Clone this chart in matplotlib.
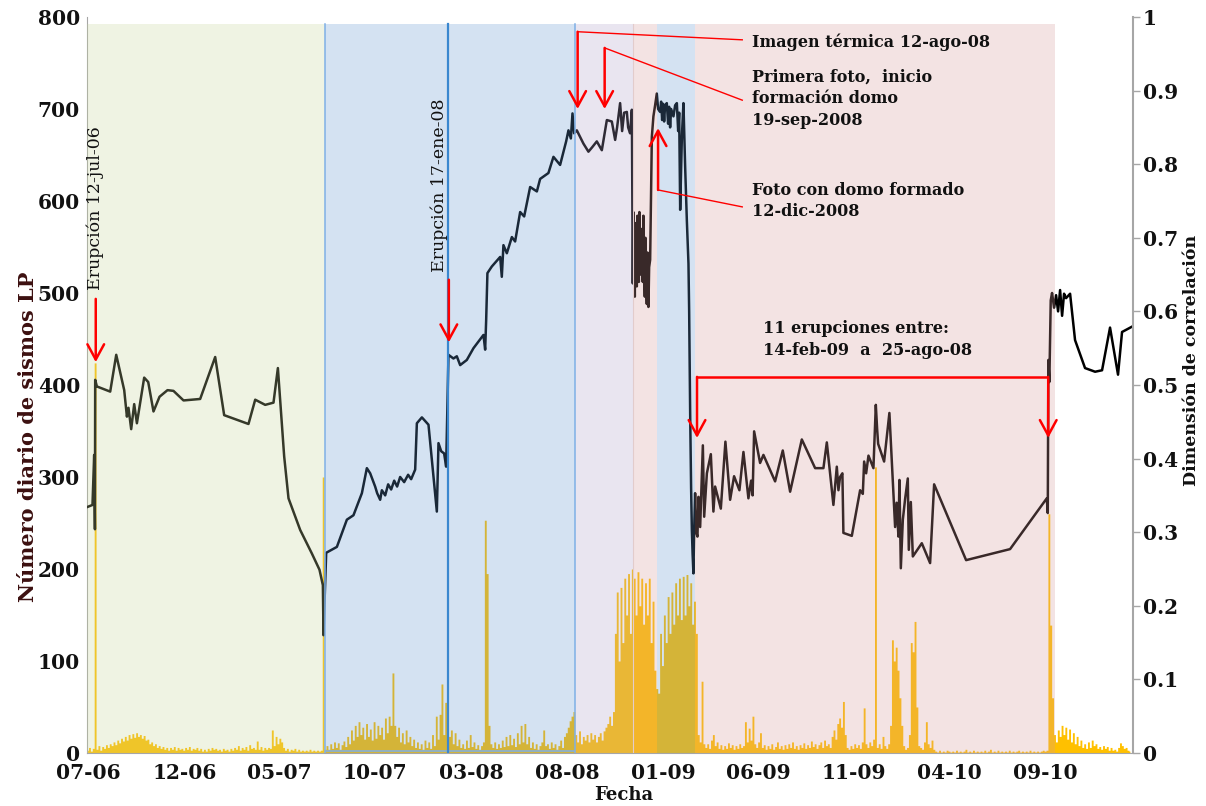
import numpy as np
import matplotlib
matplotlib.use("Agg")
import matplotlib.pyplot as plt
import matplotlib.dates as mdates

plt.rcParams['font.family'] = ['DejaVu Serif']

# numero diario de sismos LP, one value every 3 days from 2006-06-30
lp_start = '2006-06-30'
lp_step_days = 3
lp_count = [
    3, 6, 2, 5, 424, 4, 8, 3, 7, 5,
    9, 6, 10, 8, 12, 9, 14, 11, 16, 13,
    18, 14, 20, 16, 21, 17, 22, 18, 20, 16,
    19, 14, 15, 10, 12, 8, 10, 6, 8, 5,
    7, 4, 6, 3, 6, 4, 7, 3, 6, 4,
    5, 3, 6, 4, 7, 3, 5, 4, 6, 3,
    5, 2, 4, 2, 5, 3, 6, 4, 5, 3,
    4, 2, 5, 3, 4, 2, 5, 3, 6, 4,
    8, 3, 6, 4, 7, 3, 9, 5, 6, 4,
    13, 4, 7, 3, 6, 4, 6, 5, 25, 8,
    18, 10, 16, 12, 6, 3, 5, 2, 4, 3,
    5, 2, 4, 2, 3, 2, 3, 2, 4, 2,
    3, 2, 3, 2, 3, 300, 4,
    # jul-2007 .. jan-2008
    8, 4, 10, 5, 12, 6, 11, 4, 9, 13,
    7, 18, 10, 25, 14, 30, 18, 34, 20, 28,
    15, 32, 18, 26, 14, 34, 16, 30, 20, 28,
    15, 38, 22, 40, 30, 87,
    30, 18, 28, 12, 22, 10, 25, 12, 18, 8,
    15, 6, 12, 5, 10, 4, 14, 6, 12, 5, 20, 8,
    40, 15, 42, 75, 20, 55, 12,
    # jan-2008 .. aug-2008
    18, 25, 10, 22, 8, 15, 6, 10, 5, 14,
    6, 20, 7, 12, 5, 9, 4, 8, 12,
    253, 195, 30,
    10, 6, 12, 5, 10, 6, 14, 7, 18, 8,
    20, 9, 16, 7, 22, 10, 30, 12, 32, 10,
    18, 6, 12, 5, 10, 4, 8, 12, 25, 8,
    10, 5, 12, 6, 10, 4, 8, 14, 6, 18,
    22, 28, 35, 40, 45,
    # aug-2008 .. feb-2009
    20, 12, 24, 10, 18, 14, 20, 12, 22, 15,
    20, 12, 18, 22, 14, 24, 28, 32,
    40, 30, 45, 130, 175, 100, 180, 120, 190, 150, 195, 130, 200,
    190, 150, 197, 160, 190, 140, 185, 150, 190, 120, 165, 90, 70,
    65, 130, 95, 150, 120, 170, 130, 175, 140, 185,
    150, 190, 145, 192, 150, 194, 160, 185, 140, 165,
    # feb-2009 .. sep-2010
    130, 20, 12, 78, 10,
    6, 10, 5, 14, 20, 8, 12, 5, 9, 4,
    8, 5, 11, 6, 9, 4, 8, 5, 10, 6, 8,
    34, 12, 27, 14, 40, 10,
    6, 12, 22, 6, 9, 4, 8, 5, 10, 4,
    7, 12, 5, 8, 4, 9, 5, 10, 6, 12,
    5, 8, 4, 9, 6, 11, 5, 9, 6, 13,
    7, 10, 5, 9, 12, 6, 14, 8, 10, 6,
    18, 25, 15, 32, 38, 28, 56, 20, 6,
    4, 8, 5, 10, 6, 9, 5, 12,
    49, 10, 6, 12, 8, 15, 311, 6,
    10, 5, 18, 8, 5, 10, 30,
    123, 100, 115, 90, 60, 30, 8, 4,
    6, 20, 120, 110, 143, 50, 8,
    6, 4, 12, 34, 10, 6, 14, 4,
    2, 1, 3, 1, 2, 1, 3, 2, 1, 2,
    1, 3, 1, 2, 1, 2, 4, 1, 2, 1,
    3, 1, 2, 1, 2, 1, 3, 1, 2, 4,
    1, 2, 1, 3, 1, 2, 1, 2, 1, 3,
    1, 2, 1, 2, 3, 1, 2, 1, 2, 1,
    3, 1, 2, 1, 2, 1, 2, 3, 2, 3,
    260, 139, 60, 20,
    # sep-2010 .. jan-2011
    12, 25, 18, 30, 20, 28, 15, 26, 12, 22,
    10, 18, 8, 14, 6, 10, 5, 12, 6, 14,
    8, 10, 5, 7, 4, 8, 5, 7, 3, 6,
    3, 4, 2, 6, 11, 8, 5, 6, 3, 2,
]

# dimension de correlacion, days after 2006-07-01
cd_origin = '2006-07-01'
cd_day = [
    -2, 6.8, 9.5, 10.7, 11.1, 13.8, 35, 44.6, 57.3, 61.6,
    64.1, 68.4, 73.2, 77.5, 89.1, 95.5, 103.9, 113.5, 126.2, 135.7,
    151.7, 178.2, 202.1, 216.4, 255.1, 265.8, 281.7, 294.9, 301.9, 311.9,
    318.8, 337.4, 356.0, 368.1, 373.5, 374.5, 376.1,
    378.8, 395.8, 411.7, 422.2, 435.6, 443.5, 448.8, 456.7, 459.9, 464.7,
    467.4, 472.7, 477.4, 482.2, 487.0, 491.7, 496.5, 502.9, 509.2, 514.0,
    520.4, 523.1, 531.1, 541.6, 554.9, 557.5, 561.8, 566.5, 569.7,
    573.4, 581.3, 586.7, 592.0, 602.6, 613.2, 629.1, 631.8, 633.4, 635.4,
    642.4, 655.7, 658.3, 660.9, 666.3, 674.3, 679.5, 687.5, 693.9, 703.4,
    714.1, 719.3, 732.5, 740.5, 751.1, 760.7, 764.4, 768.2, 770.8, 773.4,
    777.7, 788.2, 796.2, 802.1, 809.5, 817.5, 825.5, 833.4, 838.7, 841.8,
    846.6, 849.8, 853.0, 857.3, 859.4, 862.5, 865.3,
    866.8, 867.7, 868.9, 870.0, 870.9, 872.1, 873.2, 874.2, 875.3, 876.4,
    877.3, 878.5, 879.6, 880.5, 881.6, 882.7, 883.7, 884.8, 885.9, 886.9,
    888.0, 889.1, 890.1, 891.7, 892.8, 894.4,
    897.1, 899.6, 902.3, 905.0, 907.1, 910.3, 911.9, 913.5, 915.1, 916.7,
    918.2, 920.9, 923.0, 924.6, 926.2, 927.8, 931.5, 934.2, 936.9, 939.0,
    940.6, 942.2, 943.8, 944.9, 947.4, 950.1, 952.8, 955.4, 956.5, 958.1,
    959.6, 960.8, 962.0, 963.3, 964.4, 966.0, 967.6, 969.7, 971.3, 974.0,
    978.3, 980.4, 984.7, 991.0, 995.1, 997.8, 1006.9, 1014.2, 1021.7, 1028.0,
    1036.5, 1042.9, 1050.8, 1055.1, 1057.5, 1059.9, 1069.4, 1074.7, 1093.3, 1105.5,
    1117.2, 1135.8, 1157.0, 1170.2, 1175.6, 1186.1, 1191.5, 1194.1, 1196.7, 1200.4,
    1202.0, 1215.4, 1228.6, 1232.9, 1235.0, 1238.2, 1241.9, 1249.8, 1253.6, 1255.7,
    1257.3, 1266.8, 1275.2, 1281.6, 1284.3, 1286.7, 1289.6, 1291.2, 1293.4, 1296.6,
    1300.2, 1304.5, 1306.1, 1309.3, 1312.5, 1326.8, 1340.0, 1346.4, 1397.3, 1467.3,
    1525.7, 1527.3, 1527.7, 1528.2, 1529.8, 1532.0, 1534.1, 1537.3, 1540.5, 1543.7,
    1546.9, 1550.1, 1553.2, 1556.4, 1562.8, 1570.7, 1586.6, 1602.6, 1613.7, 1626.4,
    1639.1, 1645.5, 1663.0,
]
cd_val = [
    0.334, 0.337, 0.405, 0.304, 0.507, 0.498, 0.491, 0.541, 0.493, 0.457,
    0.469, 0.440, 0.474, 0.448, 0.510, 0.504, 0.464, 0.484, 0.493, 0.492,
    0.479, 0.481, 0.538, 0.459, 0.447, 0.480, 0.473, 0.476, 0.523, 0.403,
    0.346, 0.303, 0.271, 0.249, 0.228, 0.160, 0.204,
    0.272, 0.280, 0.317, 0.323, 0.353, 0.387, 0.380, 0.362, 0.353, 0.344,
    0.357, 0.350, 0.365, 0.358, 0.370, 0.362, 0.375, 0.368, 0.378, 0.372,
    0.385, 0.448, 0.456, 0.446, 0.328, 0.421, 0.410, 0.407, 0.389,
    0.541, 0.536, 0.539, 0.527, 0.534, 0.550, 0.568, 0.548, 0.588, 0.652,
    0.661, 0.674, 0.647, 0.690, 0.679, 0.701, 0.695, 0.735, 0.729, 0.769,
    0.763, 0.780, 0.788, 0.810, 0.799, 0.831, 0.846, 0.835, 0.869, 0.842,
    0.846, 0.828, 0.817, 0.823, 0.831, 0.819, 0.860, 0.858, 0.833, 0.850,
    0.883, 0.845, 0.870, 0.871, 0.850, 0.842, 0.874,
    0.638, 0.735, 0.700, 0.620, 0.720, 0.660, 0.634, 0.730, 0.680, 0.640,
    0.735, 0.690, 0.650, 0.712, 0.660, 0.640, 0.730, 0.660, 0.620, 0.700,
    0.640, 0.610, 0.680, 0.606, 0.660, 0.670,
    0.837, 0.865, 0.880, 0.896, 0.875, 0.871, 0.885, 0.860, 0.882, 0.858,
    0.880, 0.883, 0.855, 0.878, 0.850, 0.875, 0.865, 0.880, 0.883, 0.845,
    0.870, 0.738, 0.800, 0.837, 0.883, 0.797, 0.724, 0.665, 0.600, 0.461,
    0.360, 0.303, 0.270, 0.244, 0.300, 0.353, 0.300, 0.294, 0.348, 0.307,
    0.418, 0.321, 0.380, 0.406, 0.328, 0.362, 0.332, 0.423, 0.344, 0.376,
    0.357, 0.409, 0.346, 0.370, 0.350, 0.437, 0.394, 0.405, 0.369, 0.411,
    0.355, 0.426, 0.387, 0.387, 0.422, 0.337, 0.389, 0.357, 0.375, 0.380,
    0.299, 0.295, 0.357, 0.352, 0.396, 0.380, 0.404, 0.387, 0.473, 0.440,
    0.420, 0.396, 0.462, 0.353, 0.307, 0.340, 0.294, 0.371, 0.251, 0.317,
    0.345, 0.373, 0.276, 0.341, 0.267, 0.285, 0.258, 0.365, 0.262, 0.277,
    0.346, 0.326, 0.425, 0.534, 0.504, 0.615, 0.625, 0.605, 0.622, 0.600,
    0.629, 0.594, 0.624, 0.618, 0.624, 0.561, 0.523, 0.518, 0.520, 0.578,
    0.514, 0.572, 0.580,
]

# background periods
span_edges = ['2006-06-29', '2007-07-13', '2008-08-14', '2008-11-14',
              '2008-12-22', '2009-02-21', '2010-09-17']
span_colors = ['#c7d39b', '#6297d1', '#b1a2cb', '#d69b9b', '#6297d1', '#d69b9b']

tick_dates = ['2006-07-01', '2006-12-01', '2007-05-01', '2007-10-01',
              '2008-03-01', '2008-08-01', '2009-01-01', '2009-06-01',
              '2009-11-01', '2010-04-01', '2010-09-01']
x_range = ['2006-06-29', '2011-01-19']

# events marked on the chart
erup_line_date = '2008-01-25'
erup1_date, erup2_date = '2006-07-13', '2008-01-26'
termica_date = '2008-08-18'
foto1_date = '2008-09-30'
domo_date = '2008-12-24'
bracket_dates = ['2009-02-24', '2010-09-06']
label_date = '2009-05-23'
link_date = '2009-05-07'


def dn(s):
    return mdates.datestr2num(s)


fig = plt.figure(figsize=(12.06, 8.06), dpi=100)
ax1 = fig.add_axes([0.0721, 0.0658, 0.8674, 0.9131])
ax2 = ax1.twinx()

gray = '#a6a6a6'
red = '#ff0000'
edge_blue = '#7fb0e6'

# LP counts (yellow area)
lp_x = dn(lp_start) + lp_step_days * np.arange(len(lp_count))
ax1.fill_between(lp_x, 0, lp_count, step='mid', color='#ffc000', lw=0, zorder=1)
ax1.set_ylim(0, 800)
ax1.set_yticks(np.arange(0, 801, 100))

# correlation dimension (black line)
cd_x = dn(cd_origin) + np.array(cd_day)
ax2.plot(cd_x, cd_val, color='black', lw=1.8, zorder=2)
ax2.set_ylim(0, 1)
ax2.set_yticks(np.arange(0, 1.01, 0.1))
ax2.set_yticklabels(['0'] + ['%.1f' % v for v in np.arange(0.1, 0.95, 0.1)] + ['1'])

# translucent periods drawn on top
top = 0.99
for i, c in enumerate(span_colors):
    rgb = matplotlib.colors.to_rgb(c)
    ax2.axvspan(dn(span_edges[i]), dn(span_edges[i + 1]), ymin=0, ymax=top,
                facecolor=rgb + (0.27,), edgecolor='none', zorder=3)
ax2.axvline(dn(span_edges[1]), ymax=top, color=edge_blue, lw=1.1, zorder=4)
ax2.axvline(dn(span_edges[2]), ymax=top, color=edge_blue, lw=1.1, zorder=4)
ax2.hlines(0.002, dn(span_edges[1]), dn(span_edges[2]), color=edge_blue, lw=1.1, zorder=4)
ax2.axvline(dn(span_edges[3]), ymax=top, color='#e2cccc', lw=0.8, zorder=4)
ax2.axvline(dn(erup_line_date), ymax=top, color='#3a87cf', lw=1.6, zorder=4)

ax1.set_xlim(dn(x_range[0]), dn(x_range[1]))
ax1.set_xticks([dn(d) for d in tick_dates])
ax1.xaxis.set_major_formatter(mdates.DateFormatter('%m-%y'))

for lab in ax1.get_xticklabels() + ax1.get_yticklabels() + ax2.get_yticklabels():
    lab.set_fontfamily('DejaVu Serif')
    lab.set_fontweight('bold')
    lab.set_fontsize(14.5)
    lab.set_color('#111111')
ax1.tick_params(axis='x', length=0, pad=7)
ax1.tick_params(axis='y', length=0, pad=5)
ax2.tick_params(axis='y', length=5, width=1, color=gray, pad=2)

for s in ['top', 'right']:
    ax1.spines[s].set_visible(False)
for s in ['top', 'left', 'bottom']:
    ax2.spines[s].set_visible(False)
ax1.spines['left'].set_color(gray)
ax1.spines['bottom'].set_color(gray)
ax2.spines['right'].set_color(gray)
ax2.spines['right'].set_linewidth(1.5)

# axis titles
fig.text(0.023, 0.458, 'Número diario de sismos LP', rotation=90, ha='center',
         va='center', fontsize=15, fontweight='bold', color='#3c1010')
fig.text(0.988, 0.553, 'Dimensión de correlación', rotation=90, ha='center',
         va='center', fontsize=12.5, fontweight='bold', color='#111111')
fig.text(0.517, 0.014, 'Fecha', ha='center', va='center', fontsize=13,
         fontweight='bold', color='#111111')

arrow = dict(arrowstyle='->,head_length=0.55,head_width=0.3', color=red, lw=1.8,
             mutation_scale=20, shrinkA=0, shrinkB=0)


def down_arrow(date, y0, y1):
    ax2.annotate('', xy=(dn(date), y1), xytext=(dn(date), y0),
                 arrowprops=arrow, zorder=6)


# eruption markers
down_arrow(erup1_date, 0.617, 0.531)
ax2.text(dn(erup1_date), 0.629, 'Erupción 12-jul-06', rotation=90, ha='center',
         va='bottom', fontsize=12.5, color='#111111', zorder=6)
down_arrow(erup2_date, 0.643, 0.558)
ax2.text(dn('2008-01-10'), 0.654, 'Erupción 17-ene-08', rotation=90, ha='center',
         va='bottom', fontsize=12.5, color='#111111', zorder=6)

# imagen termica
ax2.plot([dn(link_date), dn(termica_date)], [0.969, 0.980], color=red, lw=1, zorder=6)
down_arrow(termica_date, 0.980, 0.875)
ax2.text(dn(label_date), 0.966, 'Imagen térmica 12-ago-08', ha='left', va='center',
         fontsize=11.5, fontweight='bold', color='#111111', zorder=6)

# primera foto
ax2.plot([dn(link_date), dn(foto1_date)], [0.887, 0.958], color=red, lw=1, zorder=6)
down_arrow(foto1_date, 0.958, 0.875)
ax2.text(dn(label_date), 0.930, 'Primera foto,  inicio\nformación domo\n19-sep-2008',
         ha='left', va='top', fontsize=11.5, fontweight='bold', color='#111111',
         linespacing=1.35, zorder=6)

# foto con domo
ax2.plot([dn(link_date), dn(domo_date)], [0.742, 0.765], color=red, lw=1, zorder=6)
ax2.annotate('', xy=(dn(domo_date), 0.849), xytext=(dn(domo_date), 0.765),
             arrowprops=arrow, zorder=6)
ax2.text(dn(label_date), 0.776, 'Foto con domo formado\n12-dic-2008', ha='left',
         va='top', fontsize=11.5, fontweight='bold', color='#111111',
         linespacing=1.35, zorder=6)

# 11 erupciones
ax2.plot([dn(bracket_dates[0]), dn(bracket_dates[1])], [0.511, 0.511], color=red,
         lw=1.8, zorder=6, solid_capstyle='butt')
down_arrow(bracket_dates[0], 0.511, 0.428)
down_arrow(bracket_dates[1], 0.511, 0.428)
ax2.text(dn('2009-06-09'), 0.588, '11 erupciones entre:\n14-feb-09  a  25-ago-08',
         ha='left', va='top', fontsize=11.5, fontweight='bold', color='#111111',
         linespacing=1.35, zorder=6)

fig.savefig('out.png', dpi=100)
